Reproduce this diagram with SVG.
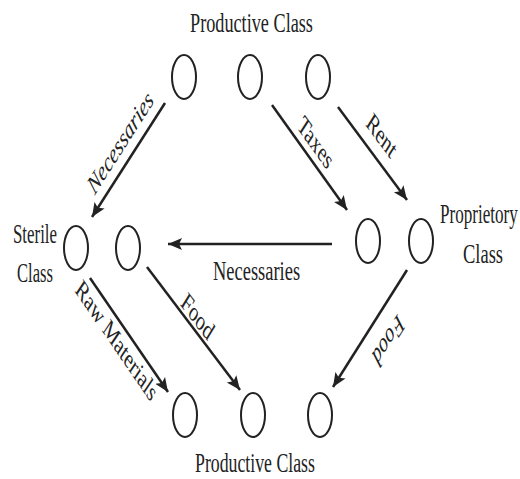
<svg xmlns="http://www.w3.org/2000/svg" width="520" height="479" viewBox="0 0 520 479">
<defs>
<style>
.node ellipse{fill:none;stroke:#222;stroke-width:2}
.lbl{font-family:"Liberation Serif","Times New Roman",serif;font-size:28px;fill:#222}
.al{font-family:"Liberation Serif","Times New Roman",serif;font-size:27px;fill:#222;text-anchor:middle}
.edges line{stroke:#222;stroke-width:2.5;marker-end:url(#ah)}
</style>
<marker id="ah" markerUnits="userSpaceOnUse" markerWidth="16" markerHeight="14" viewBox="0 -7 16 14" refX="14" refY="0" orient="auto">
<path d="M0,-6 L14,0 L0,6 L3,0 Z" fill="#222"/>
</marker>
</defs>
<rect width="520" height="479" fill="#fff"/>
<g id="productive-top" class="node">
<text class="lbl" transform="translate(190,32) scale(0.651,1)">Productive Class</text>
<ellipse cx="184" cy="77" rx="12" ry="22"/>
<ellipse cx="250" cy="77" rx="12" ry="22"/>
<ellipse cx="318" cy="77" rx="12" ry="22"/>
</g>
<g id="sterile" class="node">
<text class="lbl" transform="translate(13,243) scale(0.602,1)">Sterile</text>
<text class="lbl" transform="translate(17,282) scale(0.593,1)">Class</text>
<ellipse cx="76" cy="248" rx="12" ry="22"/>
<ellipse cx="128" cy="248" rx="12" ry="22"/>
</g>
<g id="proprietory" class="node">
<text class="lbl" transform="translate(440,223) scale(0.61,1)">Proprietory</text>
<text class="lbl" transform="translate(463,263) scale(0.66,1)">Class</text>
<ellipse cx="368" cy="241" rx="12" ry="22"/>
<ellipse cx="421" cy="241" rx="12" ry="22"/>
</g>
<g id="productive-bottom" class="node">
<ellipse cx="185" cy="415" rx="12" ry="22"/>
<ellipse cx="253" cy="415" rx="12" ry="22"/>
<ellipse cx="320" cy="415" rx="12" ry="22"/>
<text class="lbl" transform="translate(195,472) scale(0.635,1)">Productive Class</text>
</g>
<g id="connectors" class="edges">
<line x1="165" y1="103" x2="92" y2="217"/>
<line x1="272" y1="105" x2="347" y2="210"/>
<line x1="338" y1="107" x2="407" y2="200"/>
<line x1="332" y1="244" x2="168" y2="244"/>
<line x1="90" y1="278" x2="168" y2="392"/>
<line x1="147" y1="267" x2="240" y2="390"/>
<line x1="407" y1="270" x2="333" y2="387"/>
</g>
<g id="connector-labels">
<text class="al" font-style="italic" transform="translate(120,142) scale(0.68,1) rotate(-46.8)" dy="0.35em">Necessaries</text>
<text class="al" transform="translate(316,142) scale(0.68,1) rotate(43.7)" dy="0.35em">Taxes</text>
<text class="al" transform="translate(382,135) scale(0.68,1) rotate(42.6)" dy="0.35em">Rent</text>
<text class="lbl" transform="translate(213,280) scale(0.659,1)">Necessaries</text>
<text class="al" transform="translate(117,340) scale(0.68,1) rotate(44.8)" dy="0.35em">Raw Materials</text>
<text class="al" transform="translate(198,316) scale(0.68,1) rotate(41.9)" dy="0.35em">Food</text>
<text class="al" font-style="italic" transform="translate(389,341) scale(0.68,1) rotate(132.9)" dy="0.35em">Food</text>
</g>
</svg>
